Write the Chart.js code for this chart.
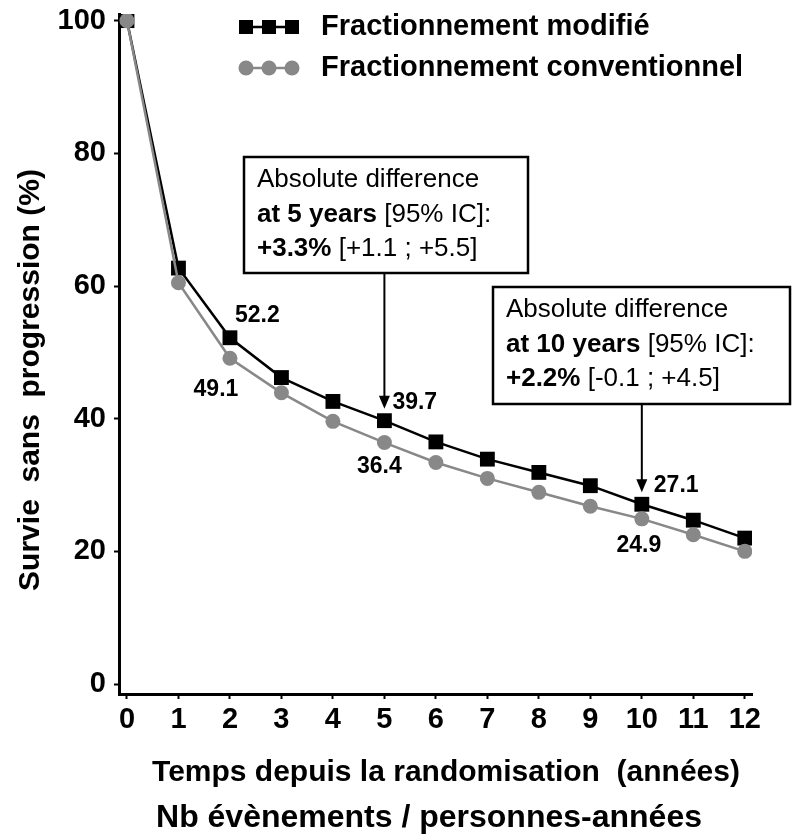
<!DOCTYPE html>
<html>
<head>
<meta charset="utf-8">
<script src="https://cdn.jsdelivr.net/npm/chart.js@4"></script>
<style>
  html, body { margin: 0; padding: 0; background: #fff; }
</style>
</head>
<body>
<canvas id="myChart" width="792" height="838"></canvas>
<script>
// data
let years = [0, 1, 2, 3, 4, 5, 6, 7, 8, 9, 10, 11, 12];
let modifie = [100, 62.7, 52.2, 46.2, 42.6, 39.7, 36.5, 33.9, 31.9, 29.9, 27.1, 24.7, 22.0];
let conventionnel = [100, 60.5, 49.1, 43.9, 39.6, 36.4, 33.4, 31.0, 28.9, 26.8, 24.9, 22.5, 20.0];
let yTicks = [0, 20, 40, 60, 80, 100];
let seriesNames = ['Fractionnement modifié', 'Fractionnement conventionnel'];
let labelledYears = [2, 5, 10];
let yTitle = 'Survie  sans  progression (%)';
let xTitle = 'Temps depuis la randomisation  (années)';
let xSubTitle = 'Nb évènements / personnes-années';
let notes = [
  { year: 5, lines: [[['Absolute difference', false]], [['at 5 years ', true], ['[95% IC]:', false]], [['+3.3% ', true], ['[+1.1 ; +5.5]', false]]] },
  { year: 10, lines: [[['Absolute difference', false]], [['at 10 years ', true], ['[95% IC]:', false]], [['+2.2% ', true], ['[-0.1 ; +4.5]', false]]] }
];

const GREY = '#888888';
const FONT = '"Liberation Sans", Arial, sans-serif';

let canvas = document.getElementById('myChart');
let ctx = canvas.getContext('2d');

function pts(arr) {
  return years.map((x, i) => ({ x: x, y: arr[i] }));
}

// box layout (pixels) and label offsets
const boxes = [
  { left: 244, top: 157, right: 528, bottom: 273 },
  { left: 493, top: 287, right: 790, bottom: 404 }
];
const labelPos = {
  black: [{ dx: 5, dy: -22, align: 'left' }, { dx: 8, dy: -18, align: 'left' }, { dx: 12, dy: -19, align: 'left' }],
  grey: [{ dx: -14, dy: 31, align: 'center' }, { dx: -5, dy: 24, align: 'center' }, { dx: -3, dy: 27, align: 'center' }]
};

function arrow(c, x, y1, y2) {
  c.beginPath();
  c.moveTo(x, y1);
  c.lineTo(x, y2 - 11);
  c.lineWidth = 2;
  c.strokeStyle = '#000';
  c.stroke();
  c.beginPath();
  c.moveTo(x - 5.5, y2 - 13);
  c.lineTo(x + 5.5, y2 - 13);
  c.lineTo(x, y2);
  c.closePath();
  c.fillStyle = '#000';
  c.fill();
}

const decor = {
  id: 'decor',
  afterDraw(chart) {
    let c = chart.ctx;
    let xs = chart.scales.x, ys = chart.scales.y;
    c.save();
    c.fillStyle = '#000';

    // axis titles
    c.font = 'bold 30px ' + FONT;
    c.textAlign = 'center';
    c.textBaseline = 'middle';
    c.save();
    c.translate(31, 380);
    c.rotate(-Math.PI / 2);
    c.fillText(yTitle, 0, 0);
    c.restore();
    c.fillText(xTitle, 446, 773);
    c.font = 'bold 32px ' + FONT;
    c.fillText(xSubTitle, 429, 818);

    // legend
    let rows = [{ y: 27, name: seriesNames[0], ds: 0 }, { y: 68, name: seriesNames[1], ds: 1 }];
    rows.forEach(r => {
      let col = r.ds === 0 ? '#000' : GREY;
      c.beginPath();
      c.moveTo(246, r.y);
      c.lineTo(292, r.y);
      c.lineWidth = 2.5;
      c.strokeStyle = col;
      c.stroke();
      c.fillStyle = col;
      [246, 269, 292].forEach(mx => {
        if (r.ds === 0) {
          c.fillRect(mx - 7, r.y - 7, 14, 14);
        } else {
          c.beginPath();
          c.arc(mx, r.y, 7.5, 0, Math.PI * 2);
          c.fill();
        }
      });
      c.fillStyle = '#000';
      c.font = 'bold 29px ' + FONT;
      c.textAlign = 'left';
      c.fillText(r.name, 321, r.y);
    });

    // value labels
    c.font = 'bold 23px ' + FONT;
    labelledYears.forEach((yr, k) => {
      let i = years.indexOf(yr);
      let px = xs.getPixelForValue(yr);
      let b = labelPos.black[k], g = labelPos.grey[k];
      c.textAlign = b.align;
      c.fillText(modifie[i].toFixed(1), px + b.dx, ys.getPixelForValue(modifie[i]) + b.dy);
      c.textAlign = g.align;
      c.fillText(conventionnel[i].toFixed(1), px + g.dx, ys.getPixelForValue(conventionnel[i]) + g.dy);
    });

    // annotation boxes
    notes.forEach((n, k) => {
      let bx = boxes[k];
      c.fillStyle = '#fff';
      c.fillRect(bx.left, bx.top, bx.right - bx.left, bx.bottom - bx.top);
      c.lineWidth = 2.5;
      c.strokeStyle = '#000';
      c.strokeRect(bx.left, bx.top, bx.right - bx.left, bx.bottom - bx.top);
      c.fillStyle = '#000';
      c.textAlign = 'left';
      c.textBaseline = 'alphabetic';
      n.lines.forEach((runs, li) => {
        let tx = bx.left + 13;
        let ty = bx.top + 30 + li * 34.5;
        runs.forEach(run => {
          c.font = (run[1] ? 'bold ' : '') + '26px ' + FONT;
          c.fillText(run[0], tx, ty);
          tx += c.measureText(run[0]).width;
        });
      });
      let i = years.indexOf(n.year);
      let ax = xs.getPixelForValue(n.year);
      arrow(c, ax, bx.bottom, ys.getPixelForValue(modifie[i]) - 12);
      c.textBaseline = 'middle';
    });

    c.restore();
  }
};

let myChart = new Chart(ctx, {
  type: 'line',
  data: {
    datasets: [{
      label: seriesNames[0],
      data: pts(modifie),
      borderColor: '#000',
      backgroundColor: '#000',
      borderWidth: 2.5,
      pointStyle: 'rect',
      pointRadius: 10.5,
      pointBorderWidth: 0,
      order: 2
    }, {
      label: seriesNames[1],
      data: pts(conventionnel),
      borderColor: GREY,
      backgroundColor: GREY,
      borderWidth: 2.5,
      pointStyle: 'circle',
      pointRadius: 7.5,
      pointBorderWidth: 0,
      order: 1
    }]
  },
  options: {
    responsive: false,
    animation: false,
    devicePixelRatio: 1,
    layout: { padding: { top: 14, right: 40, left: 0, bottom: 0 } },
    plugins: { legend: { display: false }, tooltip: { enabled: false } },
    scales: {
      x: {
        type: 'linear',
        min: -0.155,
        max: 12.14,
        afterBuildTicks: s => { s.ticks = years.map(v => ({ value: v })); },
        afterFit: s => { s.height = 144; s.paddingLeft = 0; s.paddingRight = 0; },
        grid: { drawOnChartArea: false, drawTicks: true, tickLength: 5, tickWidth: 2, color: '#000' },
        border: { display: true, color: '#000', width: 3 },
        ticks: { color: '#000', font: { family: FONT, size: 29, weight: 'bold' }, padding: 4, maxRotation: 0, autoSkip: false }
      },
      y: {
        min: -1.5,
        max: 101,
        afterBuildTicks: s => { s.ticks = yTicks.map(v => ({ value: v })); },
        afterFit: s => { s.width = 119; s.paddingTop = 0; s.paddingBottom = 0; },
        grid: { drawOnChartArea: false, drawTicks: true, tickLength: 5, tickWidth: 2, color: '#000' },
        border: { display: true, color: '#000', width: 3 },
        ticks: { color: '#000', font: { family: FONT, size: 29, weight: 'bold' }, padding: 8 }
      }
    }
  },
  plugins: [decor]
});
</script>
</body>
</html>
